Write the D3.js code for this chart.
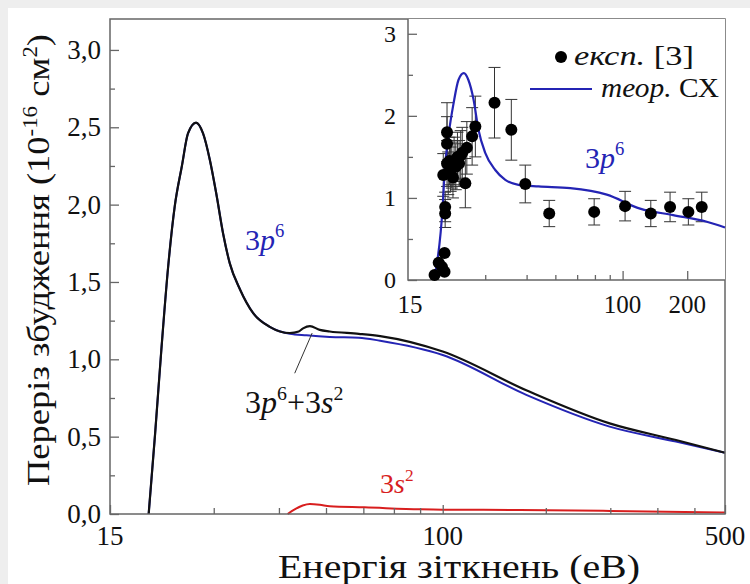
<!DOCTYPE html>
<html>
<head>
<meta charset="utf-8">
<script src="https://cdn.jsdelivr.net/npm/d3@7"></script>
<style>
  body { margin: 0; background: #eeeeee; }
  svg { display: block; }
</style>
</head>
<body>
<svg id="chart" width="750" height="584"></svg>
<script>
// MAIN PLOT DATA (energy in eV, cross section in 1e-16 cm2)
const totalE = [18.7, 19.4, 20.1, 20.9, 21.7, 22.6, 23.4, 24.5, 25.5, 26.5, 27.5, 28.6, 29.7, 31.5, 33.9, 37.3, 41.8, 44, 45.1, 46.9, 49.6, 52.5, 62, 70, 100, 161, 259, 378, 500]
const totalV = [0, 0.52, 1.06, 1.60, 1.99, 2.25, 2.46, 2.53, 2.46, 2.29, 2.07, 1.81, 1.62, 1.45, 1.30, 1.21, 1.17, 1.18, 1.20, 1.215, 1.19, 1.18, 1.165, 1.15, 1.05, 0.80, 0.586, 0.478, 0.396]

const p6E = [18.7, 19.4, 20.1, 20.9, 21.7, 22.6, 23.4, 24.5, 25.5, 26.5, 27.5, 28.6, 29.7, 31.5, 33.9, 37.3, 41.8, 46, 52.5, 62, 70, 100, 161, 259, 378, 500]
const p6V = [0, 0.52, 1.06, 1.60, 1.99, 2.25, 2.46, 2.53, 2.46, 2.29, 2.07, 1.81, 1.62, 1.45, 1.30, 1.21, 1.165, 1.155, 1.145, 1.14, 1.12, 1.028, 0.77, 0.565, 0.468, 0.396]

const s2E = [41.3, 43, 45, 46.9, 49.6, 52.5, 64, 88, 100, 155, 260, 500]
const s2V = [0, 0.03, 0.055, 0.065, 0.06, 0.05, 0.043, 0.03, 0.028, 0.026, 0.02, 0.01]

const mainYTicks = [0, 0.5, 1.0, 1.5, 2.0, 2.5, 3.0]
const mainYMinor = [0.25, 0.75, 1.25, 1.75, 2.25, 2.75]
const mainXTicks = [15, 100, 500]
const mainXMinor = [27.1, 39.3, 51.4, 63.6, 75.7, 87.9, 180, 260, 340, 420]

// INSET DATA
const theoE = [13.3, 14.5, 14.8, 15.5, 16.3, 17.2, 18.2, 19.1, 20.2, 21.3, 22.9, 25.5, 28.4, 32.7, 40.6, 57, 84.4, 120.6, 172, 246.6, 300]
const theoV = [0.04, 0.89, 1.30, 1.79, 2.15, 2.44, 2.52, 2.44, 2.20, 1.83, 1.55, 1.34, 1.22, 1.16, 1.14, 1.12, 1.04, 0.87, 0.79, 0.71, 0.64]

const expE = [13.3, 13.9, 14.4, 14.8, 14.8, 14.9, 14.9, 14.6, 15.2, 15.2, 15.2, 15.4, 15.6, 15.8, 16.0, 16.2, 16.4, 16.7, 17.0, 17.3, 17.6, 17.9, 18.5, 18.8, 19.9, 20.6, 25.3, 30.3, 35.2, 45.5, 73.7, 102.7, 135.3, 166.4, 202.5, 233.7]
const expV = [0.06, 0.21, 0.16, 0.33, 0.10, 0.81, 0.89, 1.28, 1.42, 1.66, 1.80, 1.30, 1.45, 1.35, 1.40, 1.25, 1.45, 1.38, 1.50, 1.42, 1.52, 1.55, 1.18, 1.61, 1.75, 1.87, 2.16, 1.83, 1.17, 0.81, 0.83, 0.90, 0.81, 0.89, 0.83, 0.89]
const expErr = [0, 0, 0, 0, 0, 0.17, 0.18, 0.26, 0.28, 0.33, 0.36, 0.26, 0.29, 0.27, 0.28, 0.25, 0.29, 0.28, 0.3, 0.28, 0.3, 0.31, 0.3, 0.32, 0.35, 0.37, 0.43, 0.37, 0.23, 0.16, 0.16, 0.18, 0.16, 0.18, 0.16, 0.18]

const insetYTicks = [0, 1, 2, 3]
const insetYMinor = [0.5, 1.5, 2.5]
const insetXTicks = [10, 100, 200]
const insetXLabels = ['15', '100', '200']
const insetXMinor = [22.9, 35.7, 48.6, 61.4, 74.3, 87.1]

const legendItems = ['експ.', 'теор.']
const legendRefs = [' [3]', ' СХ']

const BLUE = '#2424b4'
const RED = '#d81e1e'
const AXIS = '#666666'
const SERIF = 'Liberation Serif'

var svg = d3.select('#chart')

// white panel on the grey page
svg.append('rect').attr('x', 8).attr('y', 8).attr('width', 742).attr('height', 576).attr('fill', '#ffffff')

// MAIN PLOT
const M = {left: 110, right: 725, top: 19, bottom: 514}
var x = d3.scaleLog().domain([15, 500]).range([M.left, M.right])
var y = d3.scaleLinear().domain([0, 3.2]).range([M.bottom, M.top])

function zipPts(E, V) { return E.map((e, i) => [e, V[i]]) }

var line = d3.line().x(d => x(d[0])).y(d => y(d[1])).curve(d3.curveMonotoneX)

svg.append('path').datum(zipPts(s2E, s2V)).attr('d', line)
  .attr('fill', 'none').attr('stroke', RED).attr('stroke-width', 2)
svg.append('path').datum(zipPts(p6E, p6V)).attr('d', line)
  .attr('fill', 'none').attr('stroke', BLUE).attr('stroke-width', 2)
svg.append('path').datum(zipPts(totalE, totalV)).attr('d', line)
  .attr('fill', 'none').attr('stroke', '#111').attr('stroke-width', 2.2)

// frame
svg.append('rect').attr('x', M.left).attr('y', M.top)
  .attr('width', M.right - M.left).attr('height', M.bottom - M.top)
  .attr('fill', 'none').attr('stroke', AXIS).attr('stroke-width', 1.5)

// y axis (ticks inside)
svg.append('g').attr('transform', `translate(${M.left},0)`)
  .call(d3.axisRight(y).tickValues(mainYTicks).tickSize(9).tickFormat(''))
svg.append('g').attr('transform', `translate(${M.left},0)`)
  .call(d3.axisRight(y).tickValues(mainYMinor).tickSize(5).tickFormat(''))

svg.append('g').selectAll('text').data(mainYTicks).join('text')
  .attr('x', M.left - 9).attr('y', d => y(d)).attr('dy', '0.34em')
  .attr('text-anchor', 'end').style('font-size', '27px').attr('fill', '#111')
  .text(d => d3.format('.1f')(d).replace('.', ','))

// x axis (ticks inside)
svg.append('g').attr('transform', `translate(0,${M.bottom})`)
  .call(d3.axisTop(x).tickValues(mainXMinor).tickSize(6).tickFormat(''))
svg.append('g').attr('transform', `translate(0,${M.bottom})`)
  .call(d3.axisTop(x).tickValues(mainXTicks).tickSize(9).tickFormat(''))

svg.append('g').selectAll('text').data(mainXTicks).join('text')
  .attr('x', d => x(d)).attr('y', M.bottom + 31)
  .attr('text-anchor', 'middle').style('font-size', '27px').attr('fill', '#111')
  .text(d => d)

// axis titles (reference glyphs are a bit wider than Liberation Serif, so stretch)
svg.append('text').attr('x', 459).attr('y', 578).attr('text-anchor', 'middle')
  .style('font-size', '33px').attr('fill', '#111')
  .attr('textLength', 362).attr('lengthAdjust', 'spacingAndGlyphs')
  .text('Енергія зіткнень (еВ)')

var yt = svg.append('text').attr('transform', 'translate(49,260) rotate(-90)')
  .attr('text-anchor', 'middle').style('font-size', '32px').attr('fill', '#111')
  .attr('textLength', 452).attr('lengthAdjust', 'spacingAndGlyphs')
yt.append('tspan').text('Переріз збудження (10')
yt.append('tspan').attr('dy', -12).style('font-size', '20px').text('-16')
yt.append('tspan').attr('dy', 12).text(' см')
yt.append('tspan').attr('dy', -12).style('font-size', '20px').text('2')
yt.append('tspan').attr('dy', 12).text(')')

// curve labels
function orbitalLabel(g, parts, xx, yy, color, size) {
  var t = g.append('text').attr('x', xx).attr('y', yy).attr('fill', color).style('font-size', size + 'px')
  for (var p of parts) {
    var s = t.append('tspan').text(p.t)
    if (p.i) s.style('font-style', 'italic')
    if (p.sup) s.attr('dy', -size * 0.42).style('font-size', (size * 0.62) + 'px')
    if (p.down) s.attr('dy', size * 0.42)
  }
  return t
}
orbitalLabel(svg, [{t: '3'}, {t: 'p', i: 1}, {t: '6', sup: 1}], 245, 250, BLUE, 30)
orbitalLabel(svg, [{t: '3'}, {t: 'p', i: 1}, {t: '6', sup: 1}, {t: '+3', down: 1}, {t: 's', i: 1}, {t: '2', sup: 1}], 245, 413, '#111', 32)
orbitalLabel(svg, [{t: '3'}, {t: 's', i: 1}, {t: '2', sup: 1}], 380, 493, RED, 28)

// leader line to the 3p6+3s2 hump
svg.append('line').attr('x1', x(43)).attr('y1', y(0.91)).attr('x2', x(47.5)).attr('y2', y(1.17))
  .attr('stroke', '#333').attr('stroke-width', 1)

// INSET
const I = {left: 408, right: 725, top: 19, bottom: 280}
var xi = d3.scaleLog().domain([10, 300]).range([I.left, I.right])
var yi = d3.scaleLinear().domain([0, 3.18]).range([I.bottom, I.top])

svg.append('rect').attr('x', I.left).attr('y', I.top)
  .attr('width', I.right - I.left).attr('height', I.bottom - I.top).attr('fill', '#fff')

svg.append('g').attr('transform', `translate(0,${I.bottom})`)
  .call(d3.axisTop(xi).tickValues(insetXMinor).tickSize(5).tickFormat(''))
svg.append('g').attr('transform', `translate(0,${I.bottom})`)
  .call(d3.axisTop(xi).tickValues(insetXTicks.slice(1)).tickSize(9).tickFormat(''))
svg.append('g').attr('transform', `translate(${I.left},0)`)
  .call(d3.axisRight(yi).tickValues(insetYTicks).tickSize(9).tickFormat(''))
svg.append('g').attr('transform', `translate(${I.left},0)`)
  .call(d3.axisRight(yi).tickValues(insetYMinor).tickSize(5).tickFormat(''))
svg.selectAll('.domain').remove()
svg.selectAll('.tick line').attr('stroke', AXIS).attr('stroke-width', 1.3)

svg.append('path').attr('d', `M${I.left},${I.top}V${I.bottom}H${I.right}`)
  .attr('fill', 'none').attr('stroke', AXIS).attr('stroke-width', 1.5)

svg.append('g').selectAll('text').data(insetYTicks).join('text')
  .attr('x', I.left - 12).attr('y', d => yi(d)).attr('dy', '0.34em')
  .attr('text-anchor', 'end').style('font-size', '24px').attr('fill', '#111')
  .text(d => d)
svg.append('g').selectAll('text').data(insetXTicks).join('text')
  .attr('x', d => xi(d) + (d === 10 ? 2 : 0)).attr('y', I.bottom + 33)
  .attr('text-anchor', 'middle').style('font-size', '25px').attr('fill', '#111')
  .text((d, i) => insetXLabels[i])

// experimental points with error bars
var exp = expE.map((e, i) => ({e: e, v: expV[i], err: expErr[i]}))
var withErr = exp.filter(d => d.err > 0)
var eb = svg.append('g').attr('stroke', '#333').attr('stroke-width', 1)
eb.append('g').selectAll('line').data(withErr).join('line')
  .attr('x1', d => xi(d.e)).attr('x2', d => xi(d.e))
  .attr('y1', d => yi(d.v - d.err)).attr('y2', d => yi(d.v + d.err))
for (var sgn of [-1, 1]) {
  eb.append('g').selectAll('line').data(withErr).join('line')
    .attr('x1', d => xi(d.e) - 6).attr('x2', d => xi(d.e) + 6)
    .attr('y1', d => yi(d.v + sgn * d.err)).attr('y2', d => yi(d.v + sgn * d.err))
}

var linei = d3.line().x(d => xi(d[0])).y(d => yi(d[1])).curve(d3.curveMonotoneX)
svg.append('path').datum(zipPts(theoE, theoV)).attr('d', linei)
  .attr('fill', 'none').attr('stroke', BLUE).attr('stroke-width', 2.2)

svg.append('g').selectAll('circle').data(exp).join('circle')
  .attr('cx', d => xi(d.e)).attr('cy', d => yi(d.v)).attr('r', 6).attr('fill', '#000')

orbitalLabel(svg, [{t: '3'}, {t: 'p', i: 1}, {t: '6', sup: 1}], 585, 168, BLUE, 30)

// legend
svg.append('circle').attr('cx', 561).attr('cy', 57).attr('r', 6).attr('fill', '#000')
svg.append('line').attr('x1', 530).attr('x2', 592).attr('y1', 89).attr('y2', 89)
  .attr('stroke', BLUE).attr('stroke-width', 2.2)
const legendPos = [{x: 574, y: 65, w: 120}, {x: 601, y: 97, w: 118}]
legendItems.forEach(function (name, i) {
  var t = svg.append('text').attr('x', legendPos[i].x).attr('y', legendPos[i].y)
    .style('font-size', '27px').attr('fill', '#111')
    .attr('textLength', legendPos[i].w).attr('lengthAdjust', 'spacingAndGlyphs')
  t.append('tspan').style('font-style', 'italic').text(name)
  t.append('tspan').text(legendRefs[i])
})

// make sure every text uses the serif face
svg.selectAll('text').style('font-family', SERIF)
</script>
</body>
</html>
